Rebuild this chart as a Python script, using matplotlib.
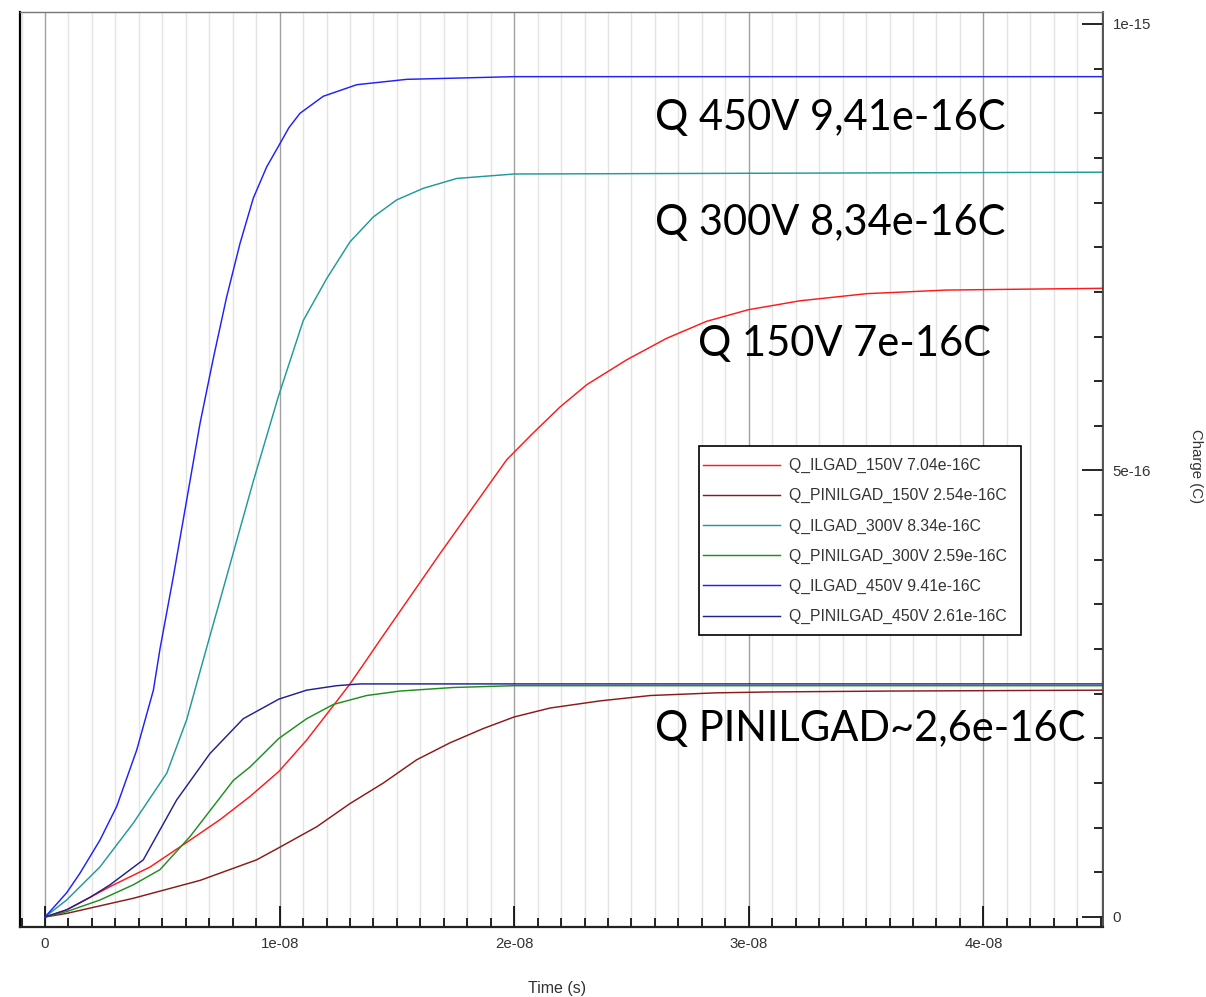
import matplotlib
matplotlib.use("Agg")
import matplotlib.pyplot as plt
from matplotlib.patches import Rectangle
from matplotlib.ticker import FixedLocator, MultipleLocator, FuncFormatter

# time in ns, charge in 1e-16 C
t_ilgad_150 = [0, 0.92, 2.77, 4.48, 6.18, 7.46, 8.74, 9.97, 11.15, 12.36, 13.0, 13.71, 14.28, 16.84,
               19.68, 20.81, 21.95, 23.09, 24.80, 26.5, 28.2, 29.98, 32.18, 35.03, 38.4, 41.6, 45.1]
q_ilgad_150 = [0, 0.08, 0.34, 0.56, 0.86, 1.09, 1.35, 1.63, 1.98, 2.39, 2.61, 2.88, 3.10, 4.07,
               5.12, 5.42, 5.71, 5.96, 6.24, 6.48, 6.67, 6.80, 6.90, 6.98, 7.02, 7.03, 7.04]

t_pin_150 = [0, 0.92, 3.77, 6.61, 9.02, 10.0, 11.58, 13.0, 14.42, 15.84, 17.26, 18.68, 20.0,
             21.53, 23.66, 25.8, 28.6, 30.9, 36.0, 45.1]
q_pin_150 = [0, 0.04, 0.21, 0.41, 0.64, 0.78, 1.01, 1.27, 1.50, 1.76, 1.95, 2.11, 2.24,
             2.34, 2.42, 2.48, 2.51, 2.52, 2.53, 2.54]

t_ilgad_300 = [0, 0.92, 2.34, 3.76, 5.19, 6.04, 6.82, 7.74, 8.88, 9.95, 11.01, 12.01, 13.0,
               14.0, 14.99, 16.13, 17.55, 20.0, 45.1]
q_ilgad_300 = [0, 0.19, 0.56, 1.05, 1.61, 2.21, 2.95, 3.81, 4.88, 5.83, 6.68, 7.15, 7.56,
               7.84, 8.03, 8.16, 8.27, 8.32, 8.34]

t_pin_300 = [0, 0.92, 2.34, 3.76, 4.9, 6.18, 8.03, 8.74, 9.97, 11.15, 12.29, 13.71, 15.13,
             17.4, 20.0, 45.1]
q_pin_300 = [0, 0.06, 0.19, 0.36, 0.53, 0.90, 1.53, 1.68, 2.0, 2.22, 2.38, 2.48, 2.53,
             2.57, 2.59, 2.59]

t_ilgad_450 = [0, 0.92, 1.49, 2.34, 3.06, 3.91, 4.62, 4.9, 5.47, 6.04, 6.61, 7.17, 7.74, 8.31,
               8.88, 9.45, 9.95, 10.4, 10.87, 11.86, 13.29, 15.42, 20.0, 45.1]
q_ilgad_450 = [0, 0.27, 0.49, 0.86, 1.24, 1.87, 2.54, 3.0, 3.81, 4.67, 5.53, 6.25, 6.94, 7.54,
               8.05, 8.40, 8.63, 8.84, 9.00, 9.19, 9.32, 9.38, 9.41, 9.41]

t_pin_450 = [0, 0.92, 1.92, 2.77, 4.19, 5.61, 7.03, 8.45, 9.97, 11.15, 12.43, 13.43, 45.1]
q_pin_450 = [0, 0.08, 0.22, 0.36, 0.64, 1.31, 1.83, 2.22, 2.44, 2.54, 2.59, 2.61, 2.61]

series = [
    (t_ilgad_150, q_ilgad_150, "Q_ILGAD_150V 7.04e-16C", "#ff1a1a"),
    (t_pin_150, q_pin_150, "Q_PINILGAD_150V 2.54e-16C", "#8b1a1a"),
    (t_ilgad_300, q_ilgad_300, "Q_ILGAD_300V 8.34e-16C", "#209a9a"),
    (t_pin_300, q_pin_300, "Q_PINILGAD_300V 2.59e-16C", "#1f8f1f"),
    (t_ilgad_450, q_ilgad_450, "Q_ILGAD_450V 9.41e-16C", "#2020ff"),
    (t_pin_450, q_pin_450, "Q_PINILGAD_450V 2.61e-16C", "#22228f"),
]

x_major = [0, 1e-8, 2e-8, 3e-8, 4e-8]
y_major = [0, 5e-16, 1e-15]

notes = ["Q 450V 9,41e-16C", "Q 300V 8,34e-16C", "Q 150V 7e-16C", "Q PINILGAD~2,6e-16C"]
note_xy = [(655, 130), (655, 235), (698, 356), (655, 741)]  # pixels from top-left

W, H = 1206, 997
AX_L, AX_R, AX_T, AX_B = 20, 1103, 12, 927
plt.rcParams["font.family"] = ["Liberation Sans", "DejaVu Sans"]
fig = plt.figure(figsize=(W / 100, H / 100), dpi=100)
ax = fig.add_axes([AX_L / W, 1 - AX_B / H, (AX_R - AX_L) / W, (AX_B - AX_T) / H])


def ax_frac(px, py):
    return (px - AX_L) / (AX_R - AX_L), (AX_B - py) / (AX_B - AX_T)


for t, q, lab, col in series:
    ax.plot([v * 1e-9 for v in t], [v * 1e-16 for v in q], color=col, lw=1.05, label=lab)

ax.set_xlim(-1.066e-9, 45.1e-9)
ax.set_ylim(-0.112e-16, 10.134e-16)

ax.xaxis.set_major_locator(FixedLocator(x_major))
ax.xaxis.set_minor_locator(MultipleLocator(1e-9))
ax.yaxis.set_major_locator(FixedLocator(y_major))
ax.yaxis.set_minor_locator(MultipleLocator(0.5e-16))
fmt = FuncFormatter(lambda v, p: "0" if abs(v) < 1e-20 else "%g" % v)
ax.xaxis.set_major_formatter(fmt)
ax.yaxis.set_major_formatter(fmt)

ax.yaxis.tick_right()
ax.tick_params(which="both", direction="in", colors="black", labelcolor="#333333", width=1.2)
ax.tick_params(which="major", length=15, labelsize=10.8, pad=7)
ax.tick_params(which="minor", length=6.5)
ax.tick_params(axis="y", which="both", left=False, right=True)
ax.tick_params(axis="x", which="both", top=False)

ax.grid(which="major", axis="x", color="#a0a0a0", lw=1.0)
ax.grid(which="minor", axis="x", color="#e4e4e4", lw=1.0)
ax.grid(False, axis="y", which="both")
ax.set_axisbelow(True)

ax.spines["left"].set_color("black")
ax.spines["left"].set_linewidth(1.6)
ax.spines["bottom"].set_color("#222222")
ax.spines["bottom"].set_linewidth(1.6)
ax.spines["right"].set_color("#444444")
ax.spines["right"].set_linewidth(1.3)
ax.spines["top"].set_color("#777777")
ax.spines["top"].set_linewidth(1.0)

fig.text(557 / W, 1 - 988 / H, "Time (s)", fontsize=11.5, color="#333333",
         ha="center", va="center")
fig.text(1196 / W, 1 - 466 / H, "Charge (C)", fontsize=10.8, color="#333333",
         rotation=-90, ha="center", va="center")

# legend box drawn separately, entries placed inside it
bx0, by0 = ax_frac(699, 635)
bx1, by1 = ax_frac(1021, 446)
ax.add_patch(Rectangle((bx0, by0), bx1 - bx0, by1 - by0, transform=ax.transAxes,
                       facecolor="white", edgecolor="black", lw=1.2, zorder=5))
lx, ly = ax_frac(703, 458)
leg = ax.legend(loc="upper left", bbox_to_anchor=(lx, ly), fontsize=11.3, frameon=False,
                handlelength=4.9, handletextpad=0.55, labelspacing=0.96, borderpad=0,
                borderaxespad=0)
leg.set_zorder(6)
for txt in leg.get_texts():
    txt.set_color("#333333")

for s, (px, py) in zip(notes, note_xy):
    fig.text(px / W, 1 - py / H, s, fontsize=30, family="Lato", color="black",
             ha="left", va="baseline")

fig.savefig("out.png", dpi=100, facecolor="white")
